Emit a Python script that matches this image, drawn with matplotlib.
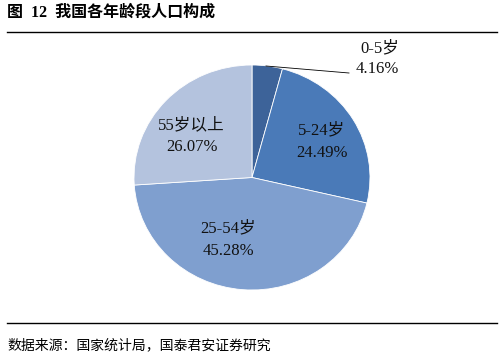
import matplotlib.pyplot as plt
from matplotlib.lines import Line2D

plt.rcParams['font.family'] = ['Liberation Serif', 'Noto Sans CJK SC']

title = "图  12  我国各年龄段人口构成"
source = "数据来源：国家统计局，国泰君安证券研究"
groups = ["0-5岁", "5-24岁", "25-54岁", "55岁以上"]
shares = [4.16, 24.49, 45.28, 26.07]
colors = ["#3d6399", "#4a7ab8", "#7f9fcf", "#b4c3de"]

fig = plt.figure(figsize=(5, 3.62), dpi=100)

# pie: centre ~ (252,177.5) px, slightly squashed
cx, cy, rx, ry = 252, 177.5, 118, 112.5
ax = fig.add_axes([(cx - rx) / 500, (362 - cy - ry) / 362, 2 * rx / 500, 2 * ry / 362])
wedges, _ = ax.pie(shares, colors=colors, startangle=90, counterclock=False,
                   wedgeprops=dict(edgecolor="white", linewidth=0.6))
ax.set_xlim(-1, 1)
ax.set_ylim(-1, 1)
ax.set_aspect("auto")
ax.axis("off")


def px(x, y):
    return (x - cx) / rx, (cy - y) / ry


# label positions in pixels
label_pos = [(380, 48, 377, 69), (322, 130, 322, 153), (228, 228, 228, 251), (191, 125, 192, 147)]
for g, s, (x1, y1, x2, y2) in zip(groups, shares, label_pos):
    ax.text(*px(x1, y1), g, ha="center", va="center", fontsize=12, color="#111111")
    ax.text(*px(x2, y2), f"{s:.2f}%", ha="center", va="center", fontsize=12, color="#111111")

# leader line for the small slice
ax.plot(*zip(px(266, 66), px(349, 73)), color="black", lw=0.6, clip_on=False)

fig.text(0.014, 1 - 13 / 362, title, fontsize=11.5, fontweight="bold",
         ha="left", va="center")
fig.add_artist(Line2D([7 / 500, 497 / 500], [1 - 32 / 362] * 2, color="black", lw=1))
fig.add_artist(Line2D([7 / 500, 497 / 500], [1 - 323 / 362] * 2, color="black", lw=1))
fig.text(0.014, 1 - 345 / 362, source, fontsize=10, ha="left", va="center")

fig.savefig("out.png", dpi=100)
